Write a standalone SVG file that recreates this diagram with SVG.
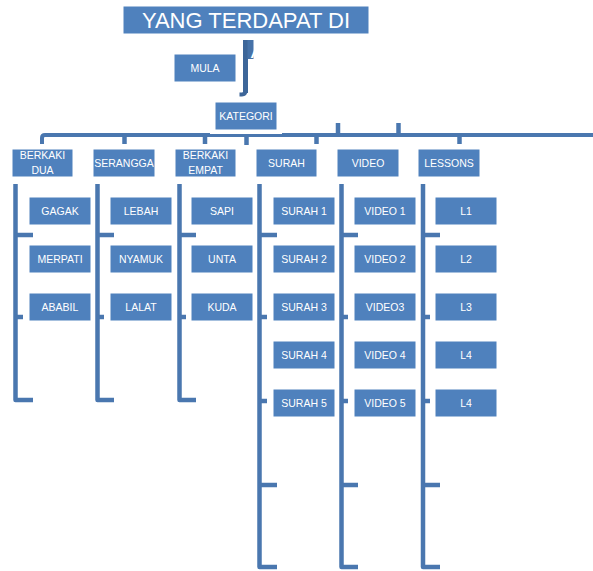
<svg xmlns="http://www.w3.org/2000/svg" width="593" height="571" viewBox="0 0 593 571">
  <style>
    .box { fill: #4F81BD; stroke: #FFFFFF; stroke-width: 1; }
    .lbl { fill: #FFFFFF; font-family: "Liberation Sans", Arial, sans-serif; font-size: 10.5px; text-anchor: middle; }
    .title { fill: #FFFFFF; font-family: "Liberation Sans", Arial, sans-serif; font-size: 22px; text-anchor: middle; }
    .bar { fill: none; stroke: #4A77AF; stroke-width: 4.5; stroke-linejoin: round; }
    .tick { stroke: #4A77AF; stroke-width: 4.5; }
  </style>
  <defs>
    <clipPath id="barClip">
      <rect x="243" y="40" width="11" height="20"/>
    </clipPath>
  </defs>
  <rect width="593" height="571" fill="#FFFFFF"/>

  <!-- connectors -->
  <g id="connectors">
    <!-- stem under the title -->
    <rect x="243" y="40" width="5" height="53" fill="#3D6699"/>
    <rect x="247.5" y="40" width="6" height="19" fill="#4672A8"/>
    <path d="M 245.5 90 Q 245.5 94.5 242 94.5 H 239.5" fill="none" stroke="#3D6699" stroke-width="4"/>
    <text x="258" y="58" class="title" clip-path="url(#barClip)">A</text>

    <!-- main horizontal rail -->
    <path class="bar" style="stroke-width:4" d="M 42 144 V 138 Q 42 135 45 135 H 593"/>
    <g class="tick">
      <line x1="124.5" y1="136" x2="124.5" y2="144"/>
      <line x1="205" y1="136" x2="205" y2="144"/>
      <line x1="246.5" y1="136" x2="246.5" y2="145"/>
      <line x1="316.5" y1="136" x2="316.5" y2="144"/>
      <line x1="459.5" y1="136" x2="459.5" y2="144"/>
      <line x1="338" y1="123" x2="338" y2="134"/>
      <line x1="398.5" y1="123" x2="398.5" y2="134"/>
    </g>

    <!-- column brackets (short columns) -->
    <path class="bar" d="M 15.5 184 V 400 H 33"/>
    <line class="tick" x1="15" y1="235" x2="33" y2="235"/>
    <line class="tick" x1="15" y1="317" x2="23" y2="317"/>

    <path class="bar" d="M 97.5 184 V 400 H 114"/>
    <line class="tick" x1="97" y1="235" x2="114" y2="235"/>
    <line class="tick" x1="97" y1="317" x2="104" y2="317"/>

    <path class="bar" d="M 179.5 184 V 400 H 196"/>
    <line class="tick" x1="179" y1="235" x2="196" y2="235"/>
    <line class="tick" x1="179" y1="317" x2="186" y2="317"/>

    <!-- column brackets (long columns) -->
    <path class="bar" d="M 259.5 184 V 567 H 277"/>
    <line class="tick" x1="259" y1="235" x2="277" y2="235"/>
    <line class="tick" x1="259" y1="485" x2="277" y2="485"/>
    <line class="tick" x1="259" y1="317" x2="267" y2="317"/>
    <line class="tick" x1="259" y1="401" x2="267" y2="401"/>

    <path class="bar" d="M 341.5 184 V 567 H 358"/>
    <line class="tick" x1="341" y1="235" x2="358" y2="235"/>
    <line class="tick" x1="341" y1="485" x2="358" y2="485"/>
    <line class="tick" x1="341" y1="317" x2="348" y2="317"/>
    <line class="tick" x1="341" y1="401" x2="348" y2="401"/>

    <path class="bar" d="M 423 184 V 567 H 440"/>
    <line class="tick" x1="423" y1="235" x2="440" y2="235"/>
    <line class="tick" x1="423" y1="485" x2="440" y2="485"/>
    <line class="tick" x1="423" y1="317" x2="430" y2="317"/>
    <line class="tick" x1="423" y1="401" x2="430" y2="401"/>
  </g>

  <!-- top nodes -->
  <g id="title">
    <rect class="box" x="123" y="6" width="246" height="28"/>
    <text class="title" x="246" y="28">YANG TERDAPAT DI</text>
  </g>
  <g id="mula">
    <rect class="box" x="174" y="54" width="62" height="28"/>
    <text class="lbl" x="205" y="72">MULA</text>
  </g>
  <g id="kategori">
    <rect x="210" y="99" width="72" height="35" fill="#FFFFFF"/>
    <rect class="box" x="215" y="102" width="62" height="28"/>
    <text class="lbl" x="246" y="120">KATEGORI</text>
  </g>

  <!-- category nodes -->
  <g id="berkaki-dua">
    <rect class="box" x="12" y="149" width="61" height="28"/>
    <text class="lbl" x="42.5" y="159">BERKAKI</text>
    <text class="lbl" x="42.5" y="174">DUA</text>
  </g>
  <g id="serangga">
    <rect class="box" x="93" y="149" width="62" height="28"/>
    <text class="lbl" x="124" y="167">SERANGGA</text>
  </g>
  <g id="berkaki-empat">
    <rect class="box" x="175" y="149" width="61" height="28"/>
    <text class="lbl" x="205.5" y="159">BERKAKI</text>
    <text class="lbl" x="205.5" y="174">EMPAT</text>
  </g>
  <g id="surah">
    <rect class="box" x="256" y="149" width="61" height="28"/>
    <text class="lbl" x="286.5" y="167">SURAH</text>
  </g>
  <g id="video">
    <rect class="box" x="337" y="149" width="62" height="28"/>
    <text class="lbl" x="368" y="167">VIDEO</text>
  </g>
  <g id="lessons">
    <rect class="box" x="418" y="149" width="62" height="28"/>
    <text class="lbl" x="449" y="167">LESSONS</text>
  </g>

  <!-- leaf nodes: BERKAKI DUA -->
  <g id="gagak"><rect class="box" x="29" y="197" width="62" height="28"/><text class="lbl" x="60" y="215">GAGAK</text></g>
  <g id="merpati"><rect class="box" x="29" y="245" width="62" height="28"/><text class="lbl" x="60" y="263">MERPATI</text></g>
  <g id="ababil"><rect class="box" x="29" y="293" width="62" height="28"/><text class="lbl" x="60" y="311">ABABIL</text></g>

  <!-- leaf nodes: SERANGGA -->
  <g id="lebah"><rect class="box" x="110" y="197" width="62" height="28"/><text class="lbl" x="141" y="215">LEBAH</text></g>
  <g id="nyamuk"><rect class="box" x="110" y="245" width="62" height="28"/><text class="lbl" x="141" y="263">NYAMUK</text></g>
  <g id="lalat"><rect class="box" x="110" y="293" width="62" height="28"/><text class="lbl" x="141" y="311">LALAT</text></g>

  <!-- leaf nodes: BERKAKI EMPAT -->
  <g id="sapi"><rect class="box" x="191" y="197" width="62" height="28"/><text class="lbl" x="222" y="215">SAPI</text></g>
  <g id="unta"><rect class="box" x="191" y="245" width="62" height="28"/><text class="lbl" x="222" y="263">UNTA</text></g>
  <g id="kuda"><rect class="box" x="191" y="293" width="62" height="28"/><text class="lbl" x="222" y="311">KUDA</text></g>

  <!-- leaf nodes: SURAH -->
  <g id="surah-1"><rect class="box" x="273" y="197" width="62" height="28"/><text class="lbl" x="304" y="215">SURAH 1</text></g>
  <g id="surah-2"><rect class="box" x="273" y="245" width="62" height="28"/><text class="lbl" x="304" y="263">SURAH 2</text></g>
  <g id="surah-3"><rect class="box" x="273" y="293" width="62" height="28"/><text class="lbl" x="304" y="311">SURAH 3</text></g>
  <g id="surah-4"><rect class="box" x="273" y="341" width="62" height="28"/><text class="lbl" x="304" y="359">SURAH 4</text></g>
  <g id="surah-5"><rect class="box" x="273" y="389" width="62" height="28"/><text class="lbl" x="304" y="407">SURAH 5</text></g>

  <!-- leaf nodes: VIDEO -->
  <g id="video-1"><rect class="box" x="354" y="197" width="62" height="28"/><text class="lbl" x="385" y="215">VIDEO 1</text></g>
  <g id="video-2"><rect class="box" x="354" y="245" width="62" height="28"/><text class="lbl" x="385" y="263">VIDEO 2</text></g>
  <g id="video-3"><rect class="box" x="354" y="293" width="62" height="28"/><text class="lbl" x="385" y="311">VIDEO3</text></g>
  <g id="video-4"><rect class="box" x="354" y="341" width="62" height="28"/><text class="lbl" x="385" y="359">VIDEO 4</text></g>
  <g id="video-5"><rect class="box" x="354" y="389" width="62" height="28"/><text class="lbl" x="385" y="407">VIDEO 5</text></g>

  <!-- leaf nodes: LESSONS -->
  <g id="l1"><rect class="box" x="435" y="197" width="62" height="28"/><text class="lbl" x="466" y="215">L1</text></g>
  <g id="l2"><rect class="box" x="435" y="245" width="62" height="28"/><text class="lbl" x="466" y="263">L2</text></g>
  <g id="l3"><rect class="box" x="435" y="293" width="62" height="28"/><text class="lbl" x="466" y="311">L3</text></g>
  <g id="l4a"><rect class="box" x="435" y="341" width="62" height="28"/><text class="lbl" x="466" y="359">L4</text></g>
  <g id="l4b"><rect class="box" x="435" y="389" width="62" height="28"/><text class="lbl" x="466" y="407">L4</text></g>
</svg>
